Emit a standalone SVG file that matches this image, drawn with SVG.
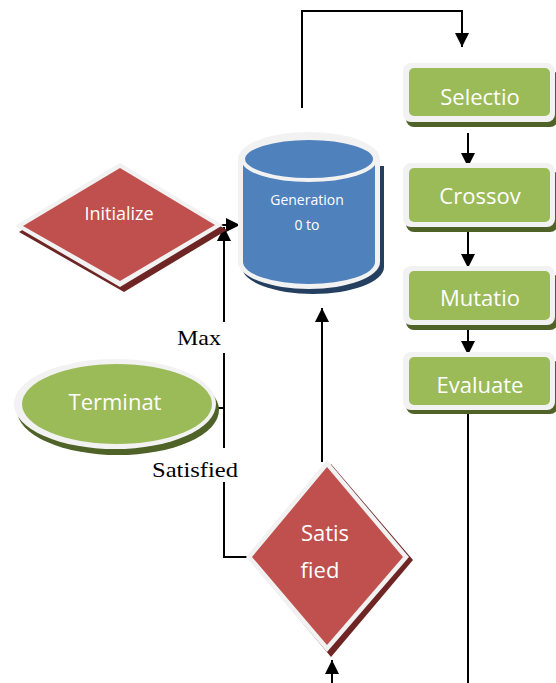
<svg xmlns="http://www.w3.org/2000/svg" width="556" height="683" viewBox="0 0 556 683">
<defs>
<style>
.lbl{font-family:"Open Sans","Liberation Sans",sans-serif;fill:#ffffff;text-anchor:middle}
.ser{font-family:"Liberation Serif","Times New Roman",serif;fill:#000000;text-anchor:middle}
.ln{fill:none;stroke:#000000;stroke-width:2}
.wb{fill:#F2F2F2}
.gr{fill:#9BBB59}
.gs{fill:#4F6228}
.rd{fill:#C0504D}
.rs{fill:#6E2523}
</style>
<marker id="ah" markerUnits="userSpaceOnUse" markerWidth="14" markerHeight="14" viewBox="0 0 14 14" refX="14" refY="7" orient="auto">
<path d="M0,0 L14,7 L0,14 Z" fill="#000"/>
</marker>
</defs>
<g id="connectors">
<path class="ln" d="M302,108 V11 H462 V47" marker-end="url(#ah)"/>
<path class="ln" d="M468,133 V167" marker-end="url(#ah)"/>
<path class="ln" d="M468,232 V268" marker-end="url(#ah)"/>
<path class="ln" d="M468,330 V355" marker-end="url(#ah)"/>
<path class="ln" d="M468,414 V683"/>
<path class="ln" d="M215,225 H240" marker-end="url(#ah)"/>
<path class="ln" d="M224,322 V227" marker-end="url(#ah)"/>
<path class="ln" d="M224,353 V448"/>
<path class="ln" d="M224,482 V557 H249"/>
<path class="ln" d="M213,408 H224"/>
<path class="ln" d="M322,462 V308" marker-end="url(#ah)"/>
<path class="ln" d="M332,683 V660" marker-end="url(#ah)"/>
<text class="ser" x="199" y="345" font-size="22" textLength="44" lengthAdjust="spacingAndGlyphs">Max</text>
<text class="ser" x="195" y="477" font-size="22" textLength="86" lengthAdjust="spacingAndGlyphs">Satisfied</text>
</g>
<g id="selection">
<rect class="gs" x="406" y="70" width="152" height="57" rx="8"/>
<rect class="wb" x="403" y="63" width="152" height="59" rx="8"/>
<rect class="gr" x="409" y="68" width="141" height="48" rx="5"/>
<text class="lbl" x="480" y="105" font-size="22">Selectio</text>
</g>
<g id="crossover">
<rect class="gs" x="406" y="170" width="152" height="62" rx="8"/>
<rect class="wb" x="403" y="163" width="152" height="64" rx="8"/>
<rect class="gr" x="409" y="168" width="141" height="54" rx="5"/>
<text class="lbl" x="480" y="204" font-size="22">Crossov</text>
</g>
<g id="mutation">
<rect class="gs" x="406" y="273" width="152" height="57" rx="8"/>
<rect class="wb" x="403" y="266" width="152" height="59" rx="8"/>
<rect class="gr" x="409" y="271" width="141" height="49" rx="5"/>
<text class="lbl" x="480" y="306" font-size="22">Mutatio</text>
</g>
<g id="evaluate">
<rect class="gs" x="406" y="359" width="152" height="55" rx="8"/>
<rect class="wb" x="403" y="352" width="152" height="58" rx="8"/>
<rect class="gr" x="409" y="357" width="141" height="48" rx="5"/>
<text class="lbl" x="480" y="393" font-size="22">Evaluate</text>
</g>
<g id="generation">
<path d="M240,163 V264 A71,27 0 0 0 382,264 V163 Z" fill="#243F60" transform="translate(2,3)"/>
<path d="M238,159 V262 A71,27 0 0 0 380,262 V159 A71,27 0 0 0 238,159 Z" class="wb"/>
<path d="M243,159 V262 A66,22 0 0 0 375,262 V159 Z" fill="#4F81BD"/>
<ellipse cx="309" cy="159" rx="66" ry="21" fill="#4F81BD" stroke="#F2F2F2" stroke-width="4"/>
<text class="lbl" x="307" y="205" font-size="14">Generation</text>
<text class="lbl" x="307" y="230" font-size="14">0 to</text>
</g>
<g id="initialize">
<polygon class="rs" points="19,232 124,170 227,230 124,292"/>
<polygon class="wb" points="15,226 120,163 223,225 120,287"/>
<polygon class="rd" points="23,226 120,168 215,225 120,281"/>
<text class="lbl" x="119" y="220" font-size="18">Initialize</text>
</g>
<g id="terminate">
<ellipse cx="118" cy="410" rx="101" ry="45" class="gs"/>
<ellipse cx="115" cy="404" rx="101" ry="45" class="wb"/>
<ellipse cx="117" cy="404" rx="95" ry="40" class="gr"/>
<text class="lbl" x="115" y="410" font-size="22">Terminat</text>
</g>
<g id="satisfied">
<polygon class="rs" points="331,464 250,560 331,657 413,560"/>
<polygon class="wb" points="327,460 246,557 327,652 409,557"/>
<polygon class="rd" points="327,467 252,557 327,645 403,557"/>
<text class="lbl" x="325" y="541" font-size="22">Satis</text>
<text class="lbl" x="320" y="578" font-size="22">fied</text>
</g>
</svg>
